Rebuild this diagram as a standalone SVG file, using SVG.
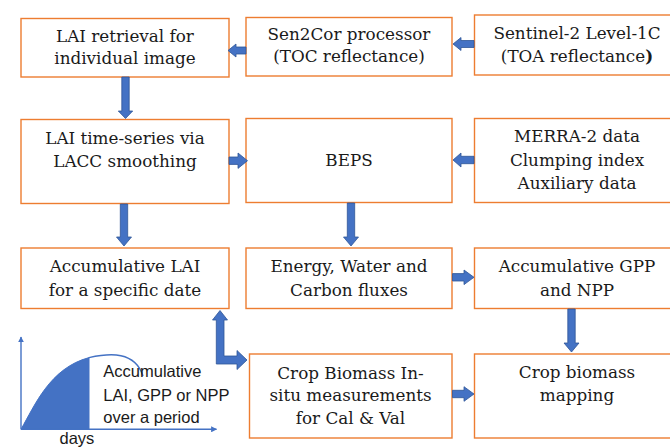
<svg xmlns="http://www.w3.org/2000/svg" width="670" height="448" viewBox="0 0 670 448">
<style>
.box{fill:#fff;stroke:#ED7D31;stroke-width:1.4}
.t{font-family:"DejaVu Serif","Liberation Serif",serif;font-size:16.8px;fill:#1a1a1a;text-anchor:middle}
.arr{fill:#4472C4;stroke:#2F5597;stroke-width:0.8}
.ax{fill:none;stroke:#4472C4;stroke-width:1.4}
.s{font-family:"Liberation Sans",Arial,sans-serif;font-size:16.5px;fill:#1a1a1a}
</style>
<defs>
<marker id="ah" viewBox="0 0 10 10" refX="9" refY="5" markerWidth="6" markerHeight="6" orient="auto" markerUnits="userSpaceOnUse">
<path d="M0,0 L10,5 L0,10 Z" fill="#4472C4"/>
</marker>
</defs>
<rect width="670" height="448" fill="#fff"/>
<g id="n-lai-retrieval"><rect class="box" x="21" y="18.5" width="208" height="58.5"/>
<text class="t" x="125" y="41.5">LAI retrieval for</text><text class="t" x="125" y="63.5">individual image</text></g>
<g id="n-sen2cor"><rect class="box" x="246" y="17.5" width="206" height="58.5"/>
<text class="t" x="349" y="40">Sen2Cor processor</text><text class="t" x="349" y="62">(TOC reflectance)</text></g>
<g id="n-sentinel"><rect class="box" x="474.5" y="15" width="208" height="60"/>
<text class="t" x="577" y="38.5">Sentinel-2 Level-1C</text><text class="t" x="577" y="61.5">(TOA reflectance<tspan font-weight="bold">)</tspan></text></g>
<g id="n-lai-ts"><rect class="box" x="21" y="119.5" width="208" height="84"/>
<text class="t" x="125" y="144">LAI time-series via</text><text class="t" x="125" y="166.5">LACC smoothing</text></g>
<g id="n-beps"><rect class="box" x="246" y="118.5" width="206" height="84"/>
<text class="t" x="349" y="165.5">BEPS</text></g>
<g id="n-merra"><rect class="box" x="474.5" y="118.5" width="208" height="84"/>
<text class="t" x="577" y="141.5">MERRA-2 data</text><text class="t" x="577" y="165.5">Clumping index</text><text class="t" x="577" y="188.5">Auxiliary data</text></g>
<g id="n-acc-lai"><rect class="box" x="21" y="248" width="208" height="60.5"/>
<text class="t" x="125" y="271.5">Accumulative LAI</text><text class="t" x="125" y="295.5">for a specific date</text></g>
<g id="n-fluxes"><rect class="box" x="246" y="248" width="206" height="60.5"/>
<text class="t" x="349" y="271.5">Energy, Water and</text><text class="t" x="349" y="295.5">Carbon fluxes</text></g>
<g id="n-acc-gpp"><rect class="box" x="474.5" y="248" width="208" height="60.5"/>
<text class="t" x="577" y="271.5">Accumulative GPP</text><text class="t" x="577" y="295.5">and NPP</text></g>
<g id="n-insitu"><rect class="box" x="249.5" y="354" width="202.5" height="84"/>
<text class="t" x="350.5" y="378.5">Crop Biomass In-</text><text class="t" x="350.5" y="401">situ measurements</text><text class="t" x="350.5" y="424">for Cal &amp; Val</text></g>
<g id="n-mapping"><rect class="box" x="474.5" y="354" width="208" height="84"/>
<text class="t" x="577" y="378">Crop biomass</text><text class="t" x="577" y="400.5">mapping</text></g>
<g id="connectors">
<path class="arr" d="M228,50.5 L236,44 L236,47 L246,47 L246,54 L236,54 L236,57 Z"/>
<path class="arr" d="M453,44 L461,37.5 L461,40.5 L474,40.5 L474,47.5 L461,47.5 L461,50.5 Z"/>
<path class="arr" d="M121.8,77 L129.2,77 L129.2,111 L132.7,111 L125.5,118.5 L118.3,111 L121.8,111 Z"/>
<path class="arr" d="M229,157 L238,157 L238,153 L247.5,160.7 L238,168.4 L238,164.4 L229,164.4 Z"/>
<path class="arr" d="M453,160 L461,153 L461,156.3 L474,156.3 L474,163.7 L461,163.7 L461,167 Z"/>
<path class="arr" d="M120.3,204 L127.7,204 L127.7,237 L131.5,237 L124,246 L116.5,237 L120.3,237 Z"/>
<path class="arr" d="M347.3,203 L354.7,203 L354.7,237 L358.5,237 L351,246 L343.5,237 L347.3,237 Z"/>
<path class="arr" d="M452.5,273.6 L464,273.6 L464,270 L474,277.3 L464,284.6 L464,281 L452.5,281 Z"/>
<path class="arr" d="M567.8,309 L575.2,309 L575.2,343 L579,343 L571.5,352 L564,343 L567.8,343 Z"/>
<path class="arr" d="M452.5,390.3 L464,390.3 L464,386.7 L474,394 L464,401.3 L464,397.7 L452.5,397.7 Z"/>
<path class="arr" d="M220,310.5 L227.5,320 L224,320 L224,356 L237,356 L237,350.5 L247,360 L237,369.5 L237,364 L216.3,364 L216.3,320 L212.5,320 Z"/>
</g>
<g id="chart">
<path d="M21,429.3 C35,405 50,368 89,357.6 L89,429.3 Z" fill="#4472C4" stroke="#4472C4" stroke-width="1"/>
<path d="M89,357.6 C110,353 135,351 143,376" class="ax"/>
<line x1="21" y1="429.3" x2="21" y2="337" class="ax" marker-end="url(#ah)"/>
<line x1="21" y1="429.3" x2="216.5" y2="429.3" class="ax" marker-end="url(#ah)"/>
<text class="s" x="103.3" y="376.7">Accumulative</text>
<text class="s" x="103.3" y="400.5">LAI, GPP or NPP</text>
<text class="s" x="103.3" y="422.5">over a period</text>
<text class="s" x="59.5" y="444">days</text>
</g>
</svg>
